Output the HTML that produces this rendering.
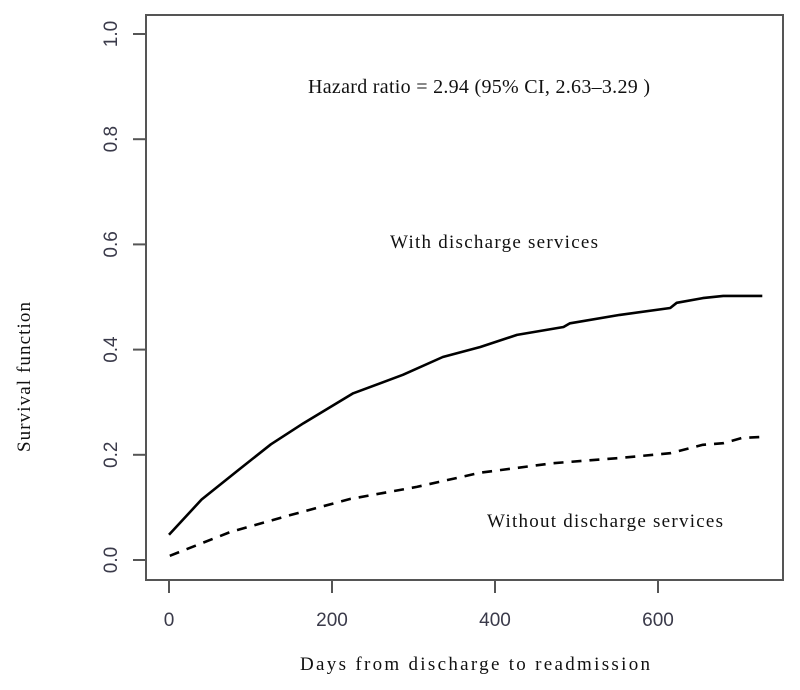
<!DOCTYPE html>
<html><head><meta charset="utf-8"><style>
html,body{margin:0;padding:0;background:#fff;}
svg{display:block;}
.tick{font-family:"Liberation Sans",sans-serif;font-size:19px;fill:#3a3a4a;}
.serif{font-family:"Liberation Serif",serif;fill:#111;}
</style></head><body>
<svg id="chart" width="800" height="690" viewBox="0 0 800 690">
<rect x="146" y="15" width="637" height="565" fill="none" stroke="#555" stroke-width="2"/>
<g id="yaxis"></g>
<g id="xaxis"></g>
<path id="withLine" fill="none" stroke="#000" stroke-width="2.6" stroke-linejoin="round"/>
<path id="withoutLine" fill="none" stroke="#000" stroke-width="2.6" stroke-dasharray="10,8"/>
<text class="serif" x="308" y="93" font-size="20" textLength="342">Hazard ratio = 2.94  (95% CI, 2.63–3.29 )</text>
<text class="serif" x="390" y="248" font-size="19" textLength="208">With  discharge  services</text>
<text class="serif" x="487" y="527" font-size="19" textLength="236">Without  discharge  services</text>
<text class="serif" x="300" y="670" font-size="19" textLength="350">Days  from  discharge  to  readmission</text>
<text class="serif" transform="translate(30,452) rotate(-90)" font-size="19" textLength="150">Survival  function</text>
</svg>
<script>
const withDays = [0, 40, 85, 125, 165, 226, 287, 336, 382, 427, 484, 492, 553, 615, 623, 655, 680, 728];
const withVals = [0.048, 0.115, 0.171, 0.22, 0.26, 0.317, 0.352, 0.386, 0.405, 0.428, 0.443, 0.45, 0.466, 0.479, 0.489, 0.498, 0.502, 0.502];
const withoutDays = [1, 75, 148, 222, 304, 382, 471, 553, 615, 655, 680, 703, 728];
const withoutVals = [0.008, 0.053, 0.085, 0.116, 0.139, 0.166, 0.184, 0.194, 0.203, 0.219, 0.222, 0.232, 0.234];
const xTicks = [0, 200, 400, 600];
const yTicks = [0, 0.2, 0.4, 0.6, 0.8, 1.0];
const yTickLabels = ["0.0", "0.2", "0.4", "0.6", "0.8", "1.0"];

const NS = "http://www.w3.org/2000/svg";
function xs(d){ return 169 + d * 163 / 200; }
function ys(v){ return 560 - v * 526; }
function path(ds, vs){ return ds.map((d,i)=>(i?"L":"M")+xs(d).toFixed(1)+","+ys(vs[i]).toFixed(1)).join(" "); }
document.getElementById("withLine").setAttribute("d", path(withDays, withVals));
document.getElementById("withoutLine").setAttribute("d", path(withoutDays, withoutVals));

const yg = document.getElementById("yaxis");
yTicks.forEach((v,i)=>{
  const l = document.createElementNS(NS,"line");
  l.setAttribute("x1",133); l.setAttribute("x2",146);
  l.setAttribute("y1",ys(v)); l.setAttribute("y2",ys(v));
  l.setAttribute("stroke","#555"); l.setAttribute("stroke-width","2");
  
  
  yg.appendChild(l);
  const t = document.createElementNS(NS,"text");
  t.setAttribute("class","tick");
  t.setAttribute("text-anchor","middle");
  t.setAttribute("transform","translate(117,"+ys(v)+") rotate(-90)");
  t.textContent = yTickLabels[i];
  
  
  yg.appendChild(t);
});
const xg = document.getElementById("xaxis");
xTicks.forEach(d=>{
  const l = document.createElementNS(NS,"line");
  l.setAttribute("x1",xs(d)); l.setAttribute("x2",xs(d));
  l.setAttribute("y1",580); l.setAttribute("y2",593);
  l.setAttribute("stroke","#555"); l.setAttribute("stroke-width","2");
  
  
  xg.appendChild(l);
  const t = document.createElementNS(NS,"text");
  t.setAttribute("class","tick");
  t.setAttribute("text-anchor","middle");
  t.setAttribute("x",xs(d)); t.setAttribute("y",626);
  t.textContent = String(d);
  
  
  xg.appendChild(t);
});
</script>
</body></html>
